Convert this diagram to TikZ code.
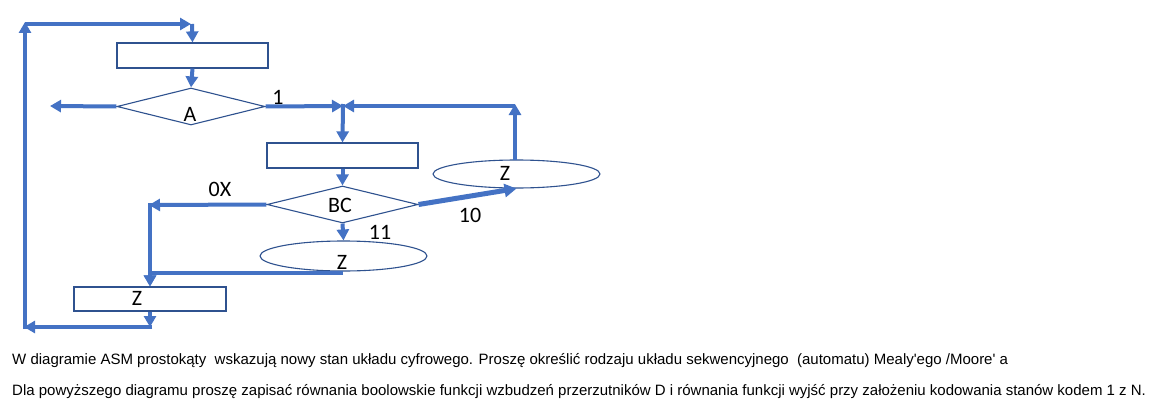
\documentclass[tikz,border=0pt]{standalone}
\usepackage{fontspec}
\setmainfont{Liberation Sans}
\newfontfamily\calib{Carlito}
\usetikzlibrary{arrows.meta,shapes.geometric}
\definecolor{arrblue}{RGB}{68,114,196}
\definecolor{outblue}{RGB}{47,82,143}
\tikzset{
  box/.style={draw=outblue,line width=1.2pt,rectangle,minimum width=151pt,minimum height=25pt,inner sep=0pt},
  dia/.style={draw=outblue,line width=1.1pt,diamond,inner sep=0pt},
  ell/.style={draw=outblue,line width=1.1pt,ellipse,inner sep=0pt},
  arr/.style={draw=arrblue,line width=4pt,-{Triangle[length=11pt,width=12pt]}},
  lin/.style={draw=arrblue,line width=4pt},
  lab/.style={font=\calib\fontsize{22}{24}\selectfont,inner sep=0pt,text=black},
  txt/.style={font=\fontsize{15}{18}\selectfont,inner sep=0pt,anchor=base west,text=black}
}
\begin{document}
\begin{tikzpicture}[x=1pt,y=-1pt]
\useasboundingbox[fill=white] (0,0) rectangle (1167,420);
% shapes
\node[box] (r1) at (192.5,55.5) {};
\node[dia,minimum width=148pt,minimum height=37pt] (dA) at (191,106.5) {};
\node[box] (r2) at (342.5,155.5) {};
\node[dia,minimum width=151pt,minimum height=37pt] (dBC) at (342.5,204.5) {};
\node[ell,minimum width=167pt,minimum height=28pt] (eZ1) at (516.5,174) {};
\node[ell,minimum width=167pt,minimum height=30pt] (eZ2) at (343.5,256) {};
\node[box,minimum width=152pt,minimum height=24pt] (rZ) at (150,299) {};
% texts in shapes
\node[lab] (tA) at (190,114) {A};
\node[lab] (tBC) at (340,205) {BC};
\node[lab] (tZ1) at (505,173) {Z};
\node[lab] (tZ2) at (342,262) {Z};
\node[lab] (tZ3) at (137,298) {Z};
% branch labels
\node[lab] (l1) at (278,97) {1};
\node[lab] (l0X) at (220,189) {0X};
\node[lab] (l10) at (470,215) {10};
\node[lab] (l11) at (380,232) {11};
% coordinates
\coordinate (cTL) at (25,22);
\coordinate (cTR) at (191,24);
\coordinate (cTD) at (192,24);
\coordinate (cBL) at (24,327);
\coordinate (cBL2) at (25,329);
\coordinate (cB) at (150,327);
\coordinate (cLeft) at (50,106);
\coordinate (cJ1) at (343,106);
\coordinate (cJ1b) at (343,104);
\coordinate (cR) at (515,104);
\coordinate (cRh) at (515,106);
\coordinate (cL) at (149,205);
\coordinate (cLv) at (150,203);
\coordinate (cZ2) at (343,273);
\coordinate (eZ1b) at (515,160);
% connectors
\draw[arr] (cBL2) -- (cTL);
\draw[arr] (25,24) -- (cTR);
\draw[arr] (cTD) -- (r1.north);
\draw[arr] (r1.south) -- (dA.north);
\draw[arr] (dA.west) -- (cLeft);
\draw[arr] (dA.east) -- (cJ1);
\draw[arr] (eZ1b) -- (cR);
\draw[arr] (cRh) -- (cJ1);
\draw[arr] (cJ1b) -- (r2.north);
\draw[arr] (r2.south) -- (dBC.north);
\draw[draw=arrblue,line width=5pt,-{Triangle[length=12pt,width=13pt]}] (dBC.east) -- (eZ1.south);
\draw[arr] (dBC.south) -- (eZ2.north);
\draw[arr] (dBC.west) -- (cL);
\draw[arr] (cLv) -- (rZ.north);
\draw[arr] (cZ2) -| (rZ.north);
\draw[arr] (rZ.south) -- (cB);
\draw[arr] (152,327) -- (cBL);
% text
\node[txt] (t1) at (12,364) {W diagramie ASM prostokąty\ \ wskazują nowy stan układu cyfrowego. Proszę określić rodzaju układu sekwencyjnego\ \ (automatu) Mealy\textquotesingle ego /Moore\textquotesingle\ a};
\node[txt] (t2) at (12,395) {Dla powyższego diagramu proszę zapisać równania boolowskie funkcji wzbudzeń przerzutników D i równania funkcji wyjść przy założeniu kodowania stanów kodem 1 z N.};
\end{tikzpicture}
\end{document}
